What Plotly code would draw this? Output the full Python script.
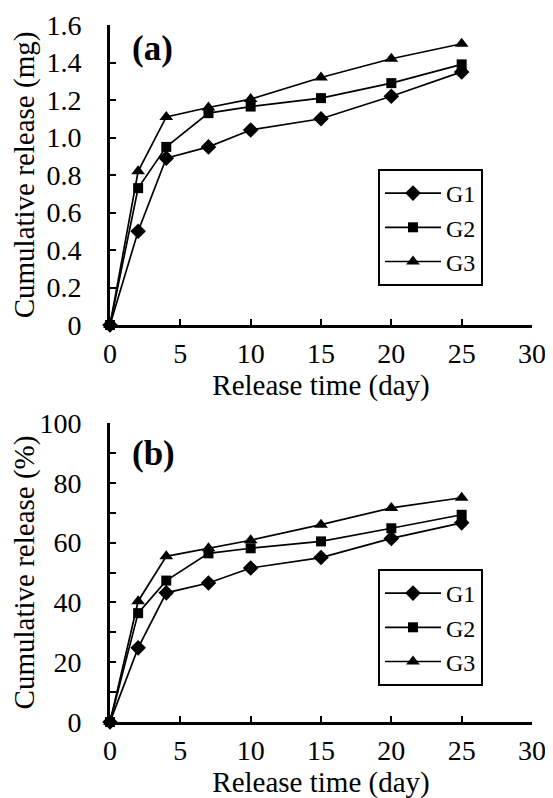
import plotly.graph_objects as go

days = [0, 2, 4, 7, 10, 15, 20, 25]
g1_mg = [0, 0.50, 0.89, 0.95, 1.04, 1.10, 1.22, 1.35]
g2_mg = [0, 0.73, 0.95, 1.13, 1.165, 1.21, 1.29, 1.39]
g3_mg = [0, 0.82, 1.11, 1.16, 1.205, 1.32, 1.42, 1.50]
g1_pct = [0, 24.8, 43.2, 46.5, 51.5, 55.0, 61.4, 66.6]
g2_pct = [0, 36.4, 47.3, 56.4, 58.1, 60.4, 64.8, 69.3]
g3_pct = [0, 40.4, 55.4, 58.1, 60.8, 66.0, 71.6, 75.0]
series_names = ["G1", "G2", "G3"]
symbols = ["diamond", "square", "triangle-up"]
msizes = [12, 10, 12]

FONT = "Liberation Serif, Times New Roman, Tinos, DejaVu Serif, serif"
fig = go.Figure()

for i, (name, ys) in enumerate(zip(series_names, [g1_mg, g2_mg, g3_mg])):
    fig.add_trace(go.Scatter(x=days, y=ys, name=name, mode="lines+markers",
                             line=dict(color="black", width=1.7),
                             marker=dict(symbol=symbols[i], size=msizes[i], color="black"),
                             xaxis="x", yaxis="y", legend="legend", cliponaxis=False))
for i, (name, ys) in enumerate(zip(series_names, [g1_pct, g2_pct, g3_pct])):
    fig.add_trace(go.Scatter(x=days, y=ys, name=name, mode="lines+markers",
                             line=dict(color="black", width=1.7),
                             marker=dict(symbol=symbols[i], size=msizes[i], color="black"),
                             xaxis="x2", yaxis="y2", legend="legend2", cliponaxis=False))

W, H = 553, 798
OFF = 8  # page body margin
def px_x(p):
    return (p - OFF) / W
def py(p):
    return 1 - (p - OFF) / H

xl, xr = px_x(110), px_x(532)

axis_common = dict(showline=True, linecolor="black", linewidth=3, ticks="inside",
                   ticklen=6, tickwidth=2, tickcolor="black", showgrid=False,
                   zeroline=False, automargin=False,
                   tickfont=dict(family=FONT, size=28, color="black"))

legend_style = dict(bgcolor="white", bordercolor="black", borderwidth=2,
                    font=dict(family=FONT, size=24, color="black"),
                    itemwidth=56, xanchor="left", yanchor="top", tracegroupgap=0)

title_font = dict(family=FONT, size=29, color="black")

fig.update_layout(
    width=W, height=H, margin=dict(l=0, r=0, t=0, b=0),
    font=dict(family=FONT, color="black"),
    paper_bgcolor="white", plot_bgcolor="white",
    xaxis=dict(domain=[xl, xr], range=[0, 30], tickvals=[0, 5, 10, 15, 20, 25, 30],
               anchor="y", ticklabelstandoff=1,
               title=dict(text="Release time (day)", font=title_font, standoff=0),
               **axis_common),
    yaxis=dict(domain=[py(325), py(25)], range=[0, 1.6], tickvals=[0, 0.2, 0.4, 0.6, 0.8, 1.0, 1.2, 1.4, 1.6],
               ticktext=["0", "0.2", "0.4", "0.6", "0.8", "1.0", "1.2", "1.4", "1.6"],
               anchor="x", ticklabelstandoff=20,
               title=dict(text="Cumulative release (mg)", font=title_font, standoff=8),
               **axis_common),
    xaxis2=dict(domain=[xl, xr], range=[0, 30], tickvals=[0, 5, 10, 15, 20, 25, 30],
                anchor="y2", ticklabelstandoff=1,
                title=dict(text="Release time (day)", font=title_font, standoff=0),
                **axis_common),
    yaxis2=dict(domain=[py(722), py(423)], range=[0, 100], tickvals=list(range(0, 101, 10)),
                ticktext=["0", "", "20", "", "40", "", "60", "", "80", "", "100"],
                anchor="x2", ticklabelstandoff=20,
                title=dict(text="Cumulative release (%)", font=title_font, standoff=8),
                **axis_common),
    legend=dict(x=px_x(378), y=py(169), **legend_style),
    legend2=dict(x=px_x(378), y=py(569), **legend_style),
    annotations=[
        dict(text="<b>(a)</b>", x=px_x(130), y=py(49), xref="paper", yref="paper",
             xanchor="left", yanchor="middle", showarrow=False,
             font=dict(family=FONT, size=35, color="black")),
        dict(text="<b>(b)</b>", x=px_x(130), y=py(453), xref="paper", yref="paper",
             xanchor="left", yanchor="middle", showarrow=False,
             font=dict(family=FONT, size=35, color="black")),
    ],
)

fig.write_html("out.html")
